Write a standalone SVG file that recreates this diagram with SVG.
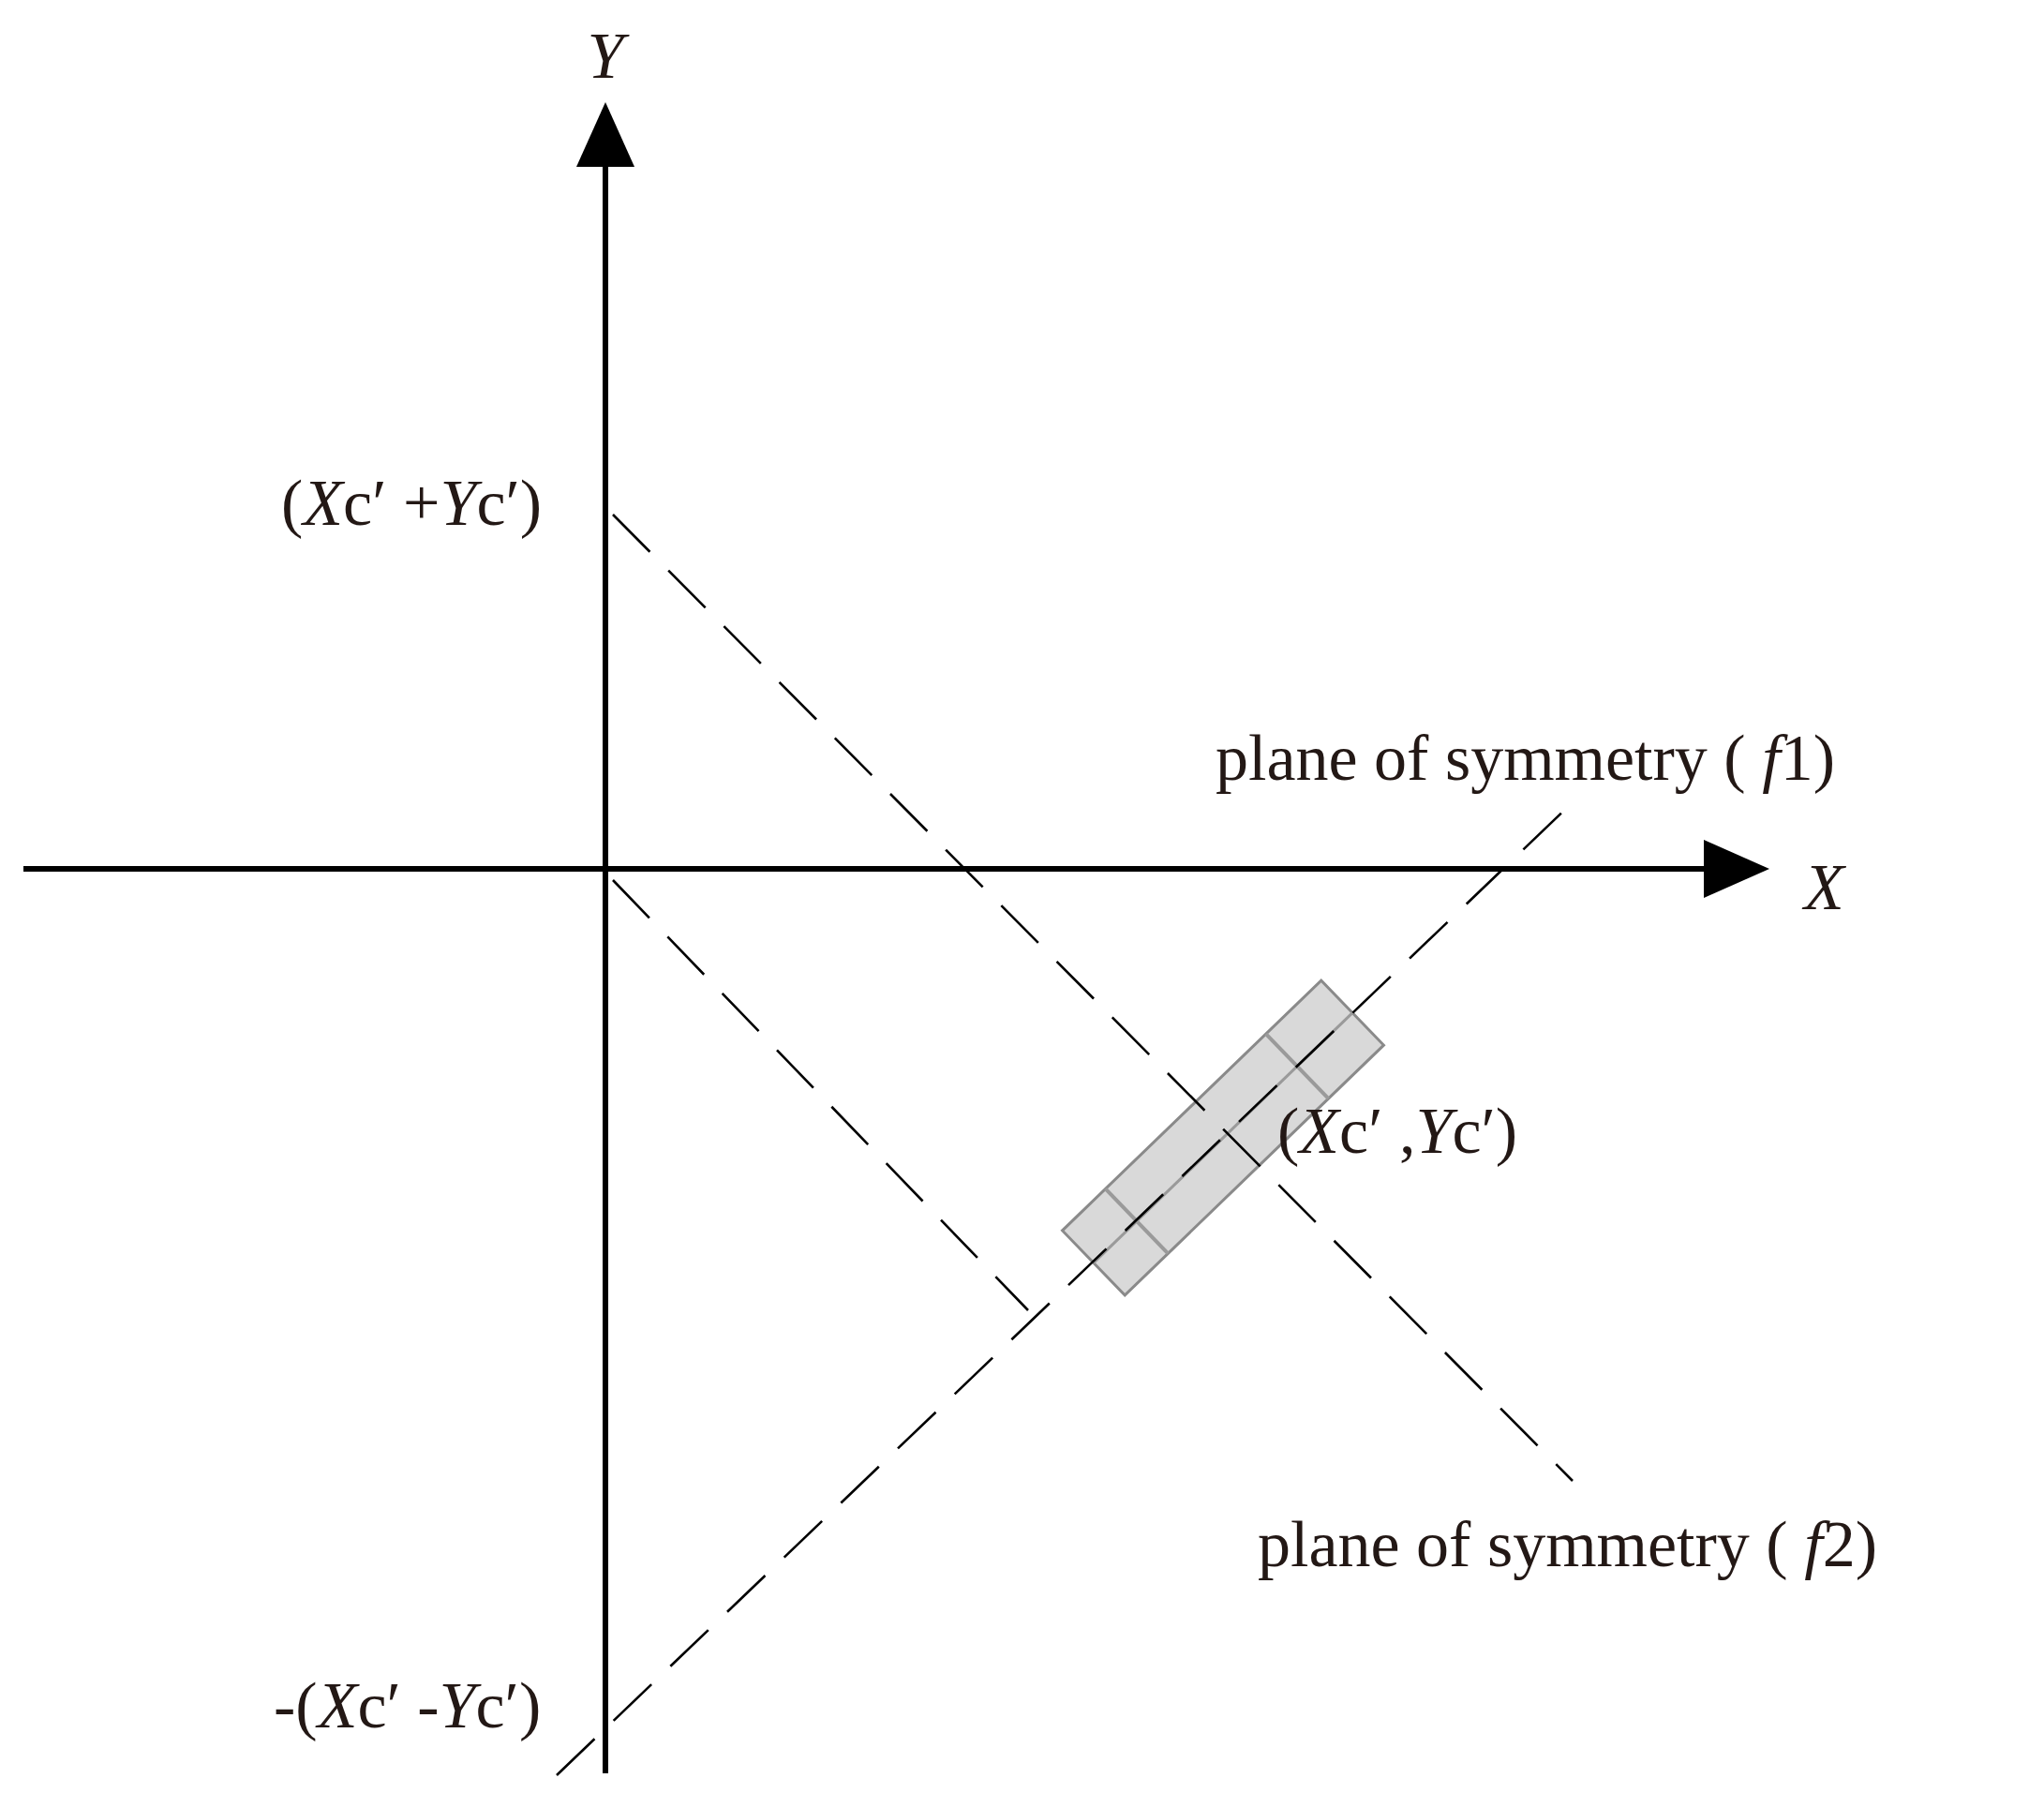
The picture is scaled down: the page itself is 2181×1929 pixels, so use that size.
<svg xmlns="http://www.w3.org/2000/svg" width="2181" height="1929" viewBox="0 0 2181 1929">
<style>
.ax{stroke:#000;stroke-width:6;fill:none}
.d{stroke:#000;stroke-width:2.6;stroke-dasharray:56 28;fill:none}
.t{font-family:"Liberation Serif",serif;font-size:70px;fill:#231815}
.i{font-style:italic}
.s{font-size:52px}
</style>
<rect width="2181" height="1929" fill="#fff"/>
<g id="axes">
<line class="ax" x1="646" y1="170" x2="646" y2="1892"/>
<polygon points="646,109 615,178 677,178" fill="#000"/>
<line class="ax" x1="25" y1="927" x2="1830" y2="927"/>
<polygon points="1888,927 1818,896 1818,958" fill="#000"/>
<text class="t i" x="646" y="83" text-anchor="middle" font-size="84">Y</text>
<text class="t i" x="1925" y="970" font-size="84">X</text>
</g>
<g id="part">
<g transform="translate(1305,1214) rotate(-44)">
<rect x="-192" y="-48" width="384" height="96" fill="#d9d9d9" stroke="#8a8a8a" stroke-width="3"/>
<line x1="-192" y1="0" x2="192" y2="0" stroke="#9a9a9a" stroke-width="3"/>
<line x1="-128" y1="-48" x2="-128" y2="48" stroke="#9a9a9a" stroke-width="4"/>
<line x1="110" y1="-48" x2="110" y2="48" stroke="#9a9a9a" stroke-width="4"/>
</g>
</g>
<g id="connectors">
<line class="d" x1="654" y1="549" x2="1678" y2="1580"/>
<line class="d" x1="654" y1="939" x2="1097" y2="1398"/>
<line class="d" x1="594" y1="1894" x2="1678" y2="856"/>
</g>
<g id="labels">
<text class="t" x="300" y="560">(<tspan class="i">X</tspan>c′ +<tspan class="i">Y</tspan>c′)</text>
<text class="t" x="1363" y="1230">(<tspan class="i">X</tspan>c′ ,<tspan class="i">Y</tspan>c′)</text>
<text class="t" x="292" y="1843">-(<tspan class="i">X</tspan>c′ -<tspan class="i">Y</tspan>c′)</text>
<text class="t" x="1297" y="832">plane of symmetry ( <tspan class="i">f</tspan>1)</text>
<text class="t" x="1342" y="1671">plane of symmetry ( <tspan class="i">f</tspan>2)</text>
</g>
</svg>
